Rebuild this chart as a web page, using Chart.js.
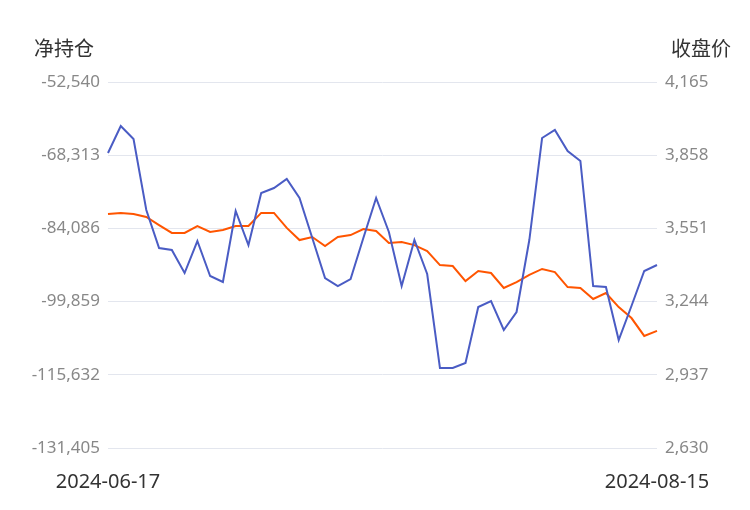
<!DOCTYPE html>
<html><head><meta charset="utf-8">
<script src="https://cdn.jsdelivr.net/npm/chart.js@4"></script>
<style>body{margin:0;background:#fff}#w{width:750px;height:510px}</style>
</head><body><div id="w"><canvas id="c"></canvas></div>
<script>
const dates=["2024-06-17","2024-06-18","2024-06-19","2024-06-20","2024-06-21","2024-06-24","2024-06-25","2024-06-26","2024-06-27","2024-06-28","2024-07-01","2024-07-02","2024-07-03","2024-07-04","2024-07-05","2024-07-08","2024-07-09","2024-07-10","2024-07-11","2024-07-12","2024-07-15","2024-07-16","2024-07-17","2024-07-18","2024-07-19","2024-07-22","2024-07-23","2024-07-24","2024-07-25","2024-07-26","2024-07-29","2024-07-30","2024-07-31","2024-08-01","2024-08-02","2024-08-05","2024-08-06","2024-08-07","2024-08-08","2024-08-09","2024-08-12","2024-08-13","2024-08-14","2024-08-15"];
const netPosition=[-67840,-62022,-64824,-80124,-88313,-88744,-93701,-86805,-94347,-95640,-80340,-87667,-76461,-75383,-73444,-77538,-86158,-94778,-96502,-94994,-86158,-77538,-84865,-96502,-86589,-93916,-114173,-114173,-113096,-101028,-99735,-105984,-102105,-86589,-64608,-62884,-67410,-69565,-96502,-96718,-108139,-100812,-93270,-91977];
const closePrice=[3611,3616,3611,3599,3565,3532,3532,3561,3536,3544,3561,3561,3616,3616,3553,3502,3515,3477,3515,3523,3548,3540,3490,3494,3481,3456,3397,3393,3330,3372,3364,3301,3326,3356,3381,3368,3305,3301,3255,3280,3221,3175,3100,3121];
const leftTicks={min:-131405,max:-52540,step:15773};
const rightTicks={min:2630,max:4165,step:307};
const titles={
 id:'titles',
 afterDraw(ch){const c=ch.ctx;c.save();c.font='20px "Noto Sans CJK SC"';c.fillStyle='#333';c.textBaseline='middle';
 c.textAlign='left';c.fillText('净持仓',34,48);c.textAlign='right';c.fillText('收盘价',731,48);c.restore();}
};
new Chart(document.getElementById('c'),{
 type:'line',
 data:{labels:dates,datasets:[
  {data:netPosition,borderColor:'#4a5cc4',borderWidth:2,pointRadius:0,tension:0,yAxisID:'y'},
  {data:closePrice,borderColor:'#ff5500',borderWidth:2,pointRadius:0,tension:0,yAxisID:'y1'}]},
 options:{responsive:true,maintainAspectRatio:false,animation:false,
  layout:{padding:{top:82,left:20,right:20,bottom:10}},
  plugins:{legend:{display:false},tooltip:{enabled:false}},
  scales:{
   x:{grid:{display:false},border:{display:false},
    afterFit(s){s.height=52;},
    ticks:{autoSkip:false,maxRotation:0,color:'#333',font:{size:20,family:'"Noto Sans"'},padding:14,
     callback(v,i){return (i===0||i===dates.length-1)?dates[i]:'';}}},
   y:{position:'left',min:leftTicks.min,max:leftTicks.max,border:{display:false},
    afterFit(s){s.width=88;},
    afterBuildTicks(s){s.ticks=[];for(let v=leftTicks.min;v<=leftTicks.max+1;v+=leftTicks.step)s.ticks.push({value:v});},
    grid:{color:'#e3e6ee',drawTicks:false},
    ticks:{color:'#888',font:{size:17,family:'"Noto Sans"'},padding:8,callback:v=>v.toLocaleString('en-US')}},
   y1:{position:'right',min:rightTicks.min,max:rightTicks.max,border:{display:false},
    afterFit(s){s.width=73;},
    afterBuildTicks(s){s.ticks=[];for(let v=rightTicks.min;v<=rightTicks.max+1;v+=rightTicks.step)s.ticks.push({value:v});},
    grid:{display:false,drawTicks:false},
    ticks:{color:'#888',font:{size:17,family:'"Noto Sans"'},padding:8,callback:v=>v.toLocaleString('en-US')}}
  }}
 ,plugins:[titles]});
</script></body></html>
